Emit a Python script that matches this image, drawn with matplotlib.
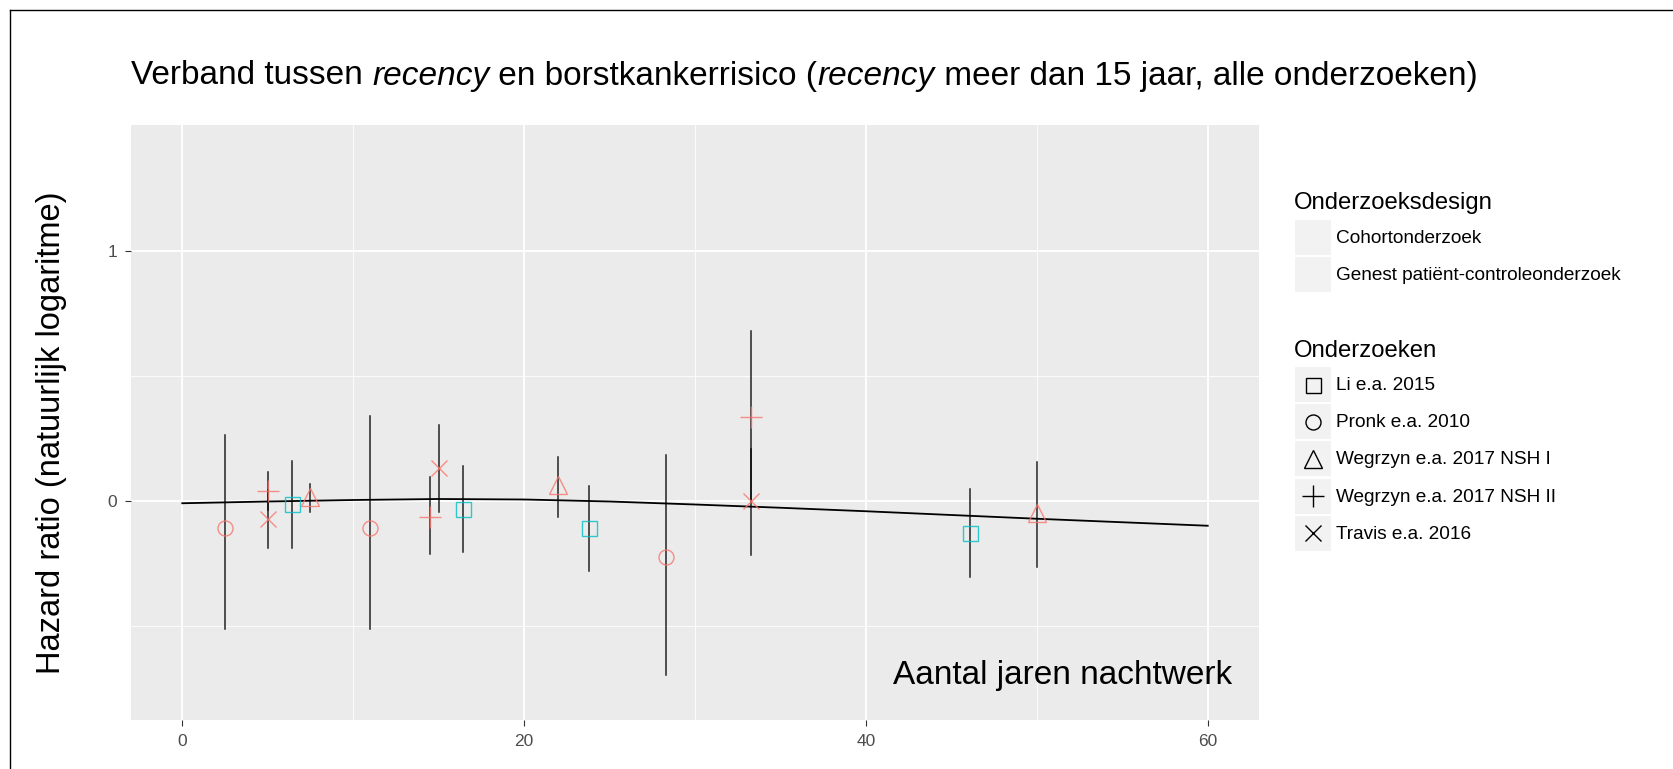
import matplotlib
matplotlib.use("Agg")
import matplotlib.pyplot as plt
from matplotlib.lines import Line2D
from matplotlib.patches import Rectangle

plt.rcParams['font.family'] = ['Liberation Sans', 'DejaVu Sans']

# data
study = ["Pronk", "NSH II", "Travis", "Li", "NSH I", "Pronk", "NSH II", "Travis",
         "Li", "NSH I", "Li", "Pronk", "NSH II", "Travis", "Li", "NSH I"]
jaren = [2.5, 5.0, 5.0, 6.4, 7.5, 11.0, 14.5, 15.0, 16.4, 22.0, 23.8, 28.3, 33.3, 33.3, 46.1, 50.0]
log_hr = [-0.107, 0.039, -0.073, -0.011, 0.017, -0.107, -0.063, 0.131,
          -0.031, 0.064, -0.107, -0.224, 0.336, 0.0, -0.129, -0.049]
ci_lo = [-0.513, -0.037, -0.189, -0.189, -0.044, -0.513, -0.213, -0.044,
         -0.203, -0.063, -0.279, -0.695, -0.006, -0.215, -0.304, -0.264]
ci_hi = [0.264, 0.115, 0.042, 0.159, 0.068, 0.340, 0.097, 0.303,
         0.141, 0.175, 0.059, 0.182, 0.678, 0.206, 0.049, 0.156]

fit_x = [0, 5, 10, 15, 20, 25, 30, 35, 40, 45, 50, 55, 60]
fit_y = [-0.009, -0.002, 0.004, 0.008, 0.006, -0.002, -0.014, -0.027, -0.041, -0.056, -0.071, -0.085, -0.099]

study_labels = {"Li": "Li e.a. 2015", "Pronk": "Pronk e.a. 2010", "NSH I": "Wegrzyn e.a. 2017 NSH I",
                "NSH II": "Wegrzyn e.a. 2017 NSH II", "Travis": "Travis e.a. 2016"}
study_order = ["Li", "Pronk", "NSH I", "NSH II", "Travis"]
design_labels = ["Cohortonderzoek", "Genest patiënt-controleonderzoek"]

markers = {"Li": ("s", 10.8), "Pronk": ("o", 10.8), "NSH I": ("^", 13), "NSH II": ("+", 16), "Travis": ("x", 11.8)}
colors = {"Li": "#00BFC4", "Pronk": "#F8766D", "NSH I": "#F8766D", "NSH II": "#F8766D", "Travis": "#F8766D"}

W, H = 1673, 769
fig = plt.figure(figsize=(W / 100, H / 100), dpi=100)


def fx(px):
    return px / W


def fy(py):
    return 1 - py / H


ax = fig.add_axes([fx(131), fy(720), fx(1259) - fx(131), fy(125) - fy(720)])
ax.set_facecolor("#EBEBEB")
for s in ax.spines.values():
    s.set_visible(False)

ax.set_xlim(-3.0, 63.0)
ax.set_ylim(-0.876, 1.504)
ax.set_xticks([0, 20, 40, 60])
ax.set_xticks([10, 30, 50], minor=True)
ax.set_yticks([0, 1])
ax.set_yticks([-0.5, 0.5], minor=True)
ax.grid(which="major", color="white", linewidth=1.3)
ax.grid(which="minor", color="white", linewidth=0.6)
ax.set_axisbelow(True)
ax.tick_params(which="major", length=4, width=0.8, color="#333333", labelcolor="#4D4D4D", labelsize=12.5, pad=6)
ax.tick_params(which="minor", length=0)

# error bars
for xi, lo, hi in zip(jaren, ci_lo, ci_hi):
    ax.plot([xi, xi], [lo, hi], color="black", lw=1.1, alpha=0.85, zorder=3)

ax.plot(fit_x, fit_y, color="black", lw=1.3, zorder=4)

for xi, yi, st in zip(jaren, log_hr, study):
    m, ms = markers[st]
    ax.plot(xi, yi, marker=m, ms=ms, mfc="none", mec=colors[st], mew=1.0, alpha=0.8, zorder=5, ls="none")

ax.text(61.4, -0.698, "Aantal jaren nachtwerk", ha="right", va="center", fontsize=24)

# title with italic words
title_parts = [("Verband tussen ", "normal"), ("recency", "italic"), (" en borstkankerrisico (", "normal"),
               ("recency", "italic"), (" meer dan 15 jaar, alle onderzoeken)", "normal")]
fig.canvas.draw()
r = fig.canvas.get_renderer()
xpos = fx(131)
for txt, style in title_parts:
    t = fig.text(xpos, fy(76), txt, fontsize=24, style=style, va="center")
    bb = t.get_window_extent(renderer=r)
    xpos += bb.width / W

fig.text(fx(52), fy(433), "Hazard ratio (natuurlijk logaritme)", rotation=90,
         fontsize=23.5, ha="center", va="center")

# legends
key_w, key_h = 36, 35
fig.text(fx(1294), fy(203), "Onderzoeksdesign", fontsize=17.2, va="center")
for i, lab in enumerate(design_labels):
    top = 220 + i * 37
    fig.add_artist(Rectangle((fx(1295), fy(top + key_h)), key_w / W, key_h / H, transform=fig.transFigure,
                             facecolor="#F2F2F2", edgecolor="none"))
    fig.text(fx(1336), fy(top + key_h / 2 + 1), lab, fontsize=13.7, va="center")

fig.text(fx(1294), fy(351), "Onderzoeken", fontsize=17.2, va="center")
for i, st in enumerate(study_order):
    top = 367 + i * 37.2
    fig.add_artist(Rectangle((fx(1295), fy(top + key_h)), key_w / W, key_h / H, transform=fig.transFigure,
                             facecolor="#F2F2F2", edgecolor="none"))
    m, ms = markers[st]
    fig.add_artist(Line2D([fx(1295 + key_w / 2)], [fy(top + key_h / 2)], transform=fig.transFigure,
                          marker=m, ms=ms, mfc="none", mec="black", mew=1.0, ls="none"))
    fig.text(fx(1336), fy(top + key_h / 2 + 1), study_labels[st], fontsize=13.7, va="center")

# page border
fig.add_artist(Line2D([fx(10), fx(10)], [0, fy(10)], transform=fig.transFigure, color="black", lw=1))
fig.add_artist(Line2D([fx(10), 1], [fy(10), fy(10)], transform=fig.transFigure, color="black", lw=1))

fig.savefig("out.png", dpi=100)
